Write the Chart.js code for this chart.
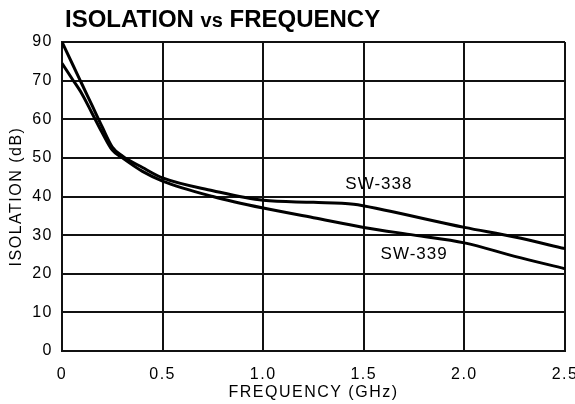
<!DOCTYPE html>
<html lang="en">
<head>
  <meta charset="UTF-8" />
  <title>Isolation vs Frequency</title>
  <script src="https://cdn.jsdelivr.net/npm/chart.js"></script>
  <style>
    body {
      margin: 0;
      background: #fff;
      font-family: Arial, "Liberation Sans", sans-serif;
    }
    #wrap {
      position: relative;
      width: 575px;
      height: 404px;
    }
    #title {
      position: absolute;
      left: 65px;
      top: 5px;
      line-height: 28px;
      font-size: 24px;
      font-weight: bold;
      color: #000;
      white-space: nowrap;
    }
    #title .vs {
      font-size: 20px;
    }
  </style>
</head>
<body>
  <div id="wrap">
    <div id="title">ISOLATION <span class="vs">vs</span> FREQUENCY</div>
    <canvas id="myChart"></canvas>
  </div>

<script>
  // values
  const freq338 = [0, 0.05, 0.1, 0.15, 0.2, 0.25, 0.3, 0.4, 0.5, 0.75, 1.0, 1.25, 1.45, 1.6, 2.0, 2.25, 2.5];
  const iso338  = [80, 74.5, 69, 63.5, 58, 52.8, 50.5, 47.5, 44.8, 41.5, 39, 38.5, 38, 36.5, 32, 29.5, 26.5];

  const freq339 = [0, 0.05, 0.1, 0.15, 0.2, 0.25, 0.3, 0.4, 0.5, 0.75, 1.0, 1.25, 1.5, 1.75, 2.0, 2.25, 2.5];
  const iso339  = [74.5, 70.5, 66.5, 61.5, 56.5, 52, 50, 46.5, 44, 40, 37, 34.5, 32, 30, 28, 24.5, 21.3];

  // tick labels as printed (top one reads 90 in the original)
  const xTickLabels = ['0', '0.5', '1.0', '1.5', '2.0', '2.5'];
  const yTickLabels = ['0', '10', '20', '30', '40', '50', '60', '70', '90'];

  // curve labels
  const labelText = ['SW-338', 'SW-339'];
  const labelFreq = [1.575, 1.75];
  const labelIso  = [43.1, 25];

  const toPoints = (xs, ys) => xs.map((x, i) => ({ x: x, y: ys[i] }));

  // the original lettering is set quite loose
  const spacing = {
    id: 'spacing',
    beforeUpdate(chart) { chart.ctx.letterSpacing = '1.5px'; },
    beforeDraw(chart) { chart.ctx.letterSpacing = '1.5px'; }
  };

  const curveLabels = {
    id: 'curveLabels',
    afterDatasetsDraw(chart) {
      const ctx = chart.ctx;
      const xs = chart.scales.x, ys = chart.scales.y;
      ctx.save();
      ctx.font = '17px Arial, "Liberation Sans", sans-serif';
      ctx.letterSpacing = '1px';
      ctx.fillStyle = '#000';
      ctx.textAlign = 'center';
      ctx.textBaseline = 'middle';
      labelText.forEach((t, i) => {
        ctx.fillText(t, xs.getPixelForValue(labelFreq[i]), ys.getPixelForValue(labelIso[i]));
      });
      ctx.restore();
    }
  };

  const ctx = document.getElementById('myChart').getContext('2d');
  new Chart(ctx, {
    type: 'line',
    data: {
      datasets: [
        {
          label: 'SW-338',
          data: toPoints(freq338, iso338),
          borderColor: '#000',
          borderWidth: 3,
          pointRadius: 0,
          cubicInterpolationMode: 'monotone',
          fill: false
        },
        {
          label: 'SW-339',
          data: toPoints(freq339, iso339),
          borderColor: '#000',
          borderWidth: 3,
          pointRadius: 0,
          cubicInterpolationMode: 'monotone',
          fill: false
        }
      ]
    },
    options: {
      responsive: true,
      maintainAspectRatio: false,
      animation: false,
      layout: { padding: { top: 42, left: 7, right: 0, bottom: 2 } },
      plugins: {
        legend: { display: false },
        tooltip: { enabled: false }
      },
      scales: {
        x: {
          type: 'linear',
          min: 0,
          max: 2.5,
          ticks: {
            stepSize: 0.5,
            color: '#000',
            padding: 14,
            maxRotation: 0,
            font: { size: 16, family: 'Arial' },
            callback: (v, i) => xTickLabels[i]
          },
          grid: { color: '#111', lineWidth: 2, drawTicks: false },
          border: { color: '#111', width: 2 },
          title: {
            display: true,
            text: 'FREQUENCY (GHz)',
            color: '#000',
            font: { size: 16, family: 'Arial' },
            padding: 0
          },
          afterFit: s => { s.height = 51; s.paddingRight = 10; }
        },
        y: {
          min: 0,
          max: 80,
          ticks: {
            stepSize: 10,
            color: '#000',
            padding: 9,
            font: { size: 16, family: 'Arial' },
            callback: (v, i) => yTickLabels[i]
          },
          grid: { color: '#111', lineWidth: 2, drawTicks: false },
          border: { color: '#111', width: 2 },
          title: {
            display: true,
            text: 'ISOLATION (dB)',
            color: '#000',
            font: { size: 16, family: 'Arial' },
            padding: 0
          },
          afterFit: s => { s.width = 55; }
        }
      }
    },
    plugins: [spacing, curveLabels]
  });
</script>
</body>
</html>
